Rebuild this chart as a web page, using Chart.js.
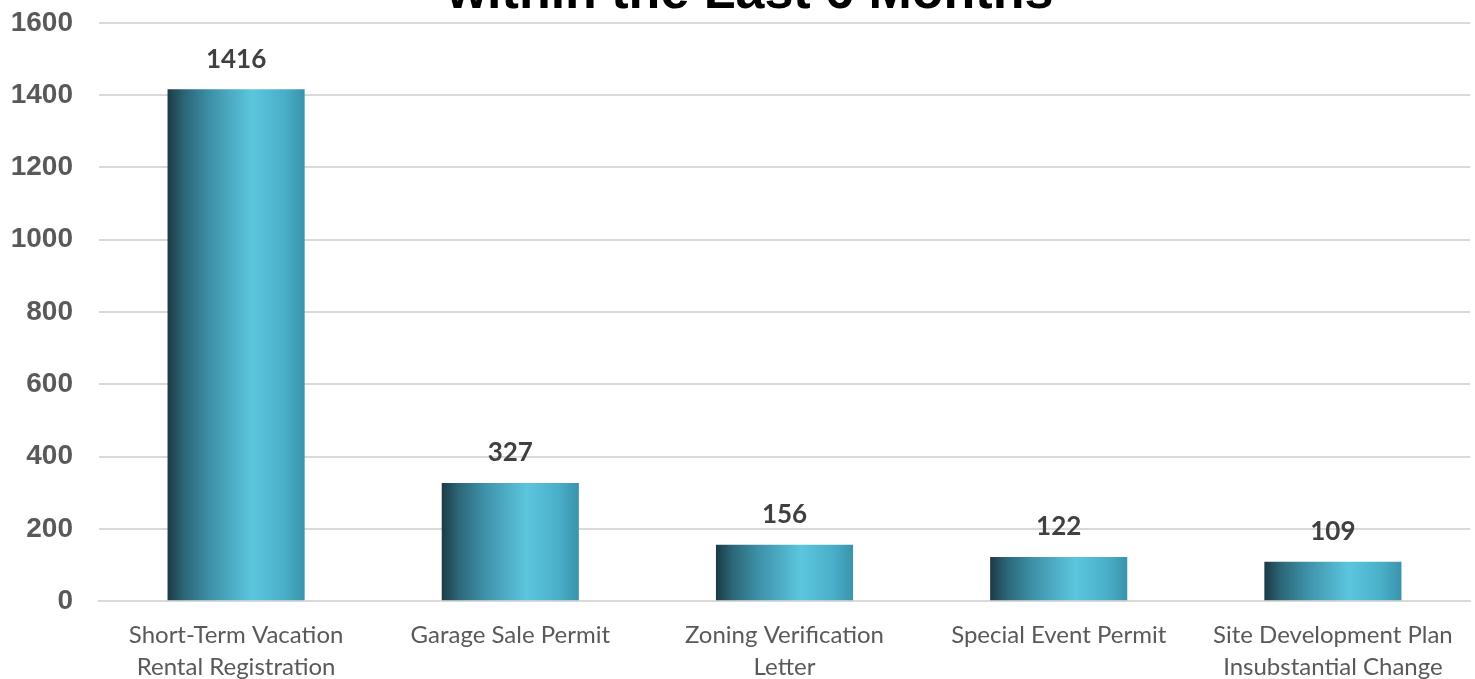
<!DOCTYPE html>
<html>
<head>
<meta charset="utf-8">
<script src="https://cdn.jsdelivr.net/npm/chart.js@4.4.1/dist/chart.umd.min.js"></script>
<style>
  html, body { margin: 0; padding: 0; background: #fff; overflow: hidden; }
  #wrap { position: relative; width: 1475px; height: 713px; top: -20px; }
</style>
</head>
<body>
<div id="wrap"><canvas id="chart"></canvas></div>
<script>
// Data
const categories = [
  ['Short-Term Vacation', 'Rental Registration'],
  'Garage Sale Permit',
  ['Zoning Verification', 'Letter'],
  'Special Event Permit',
  ['Site Development Plan', 'Insubstantial Change']
];
const permitCounts = [1416, 327, 156, 122, 109];
const titleText = 'within the Last 6 Months';

// Gradient per bar (dark left -> bright cyan -> a bit darker at right)
function barGradient(context) {
  const chart = context.chart;
  const xScale = chart.scales.x;
  if (!chart.chartArea || !xScale) return '#4fb3cc';
  const cx = xScale.getPixelForValue(context.dataIndex);
  const half = (xScale.width / categories.length) * 0.5 / 2;
  const g = chart.ctx.createLinearGradient(cx - half, 0, cx + half, 0);
  g.addColorStop(0, '#1c3a45');
  g.addColorStop(0.12, '#2b6677');
  g.addColorStop(0.3, '#3d8fa6');
  g.addColorStop(0.62, '#5cc6df');
  g.addColorStop(0.85, '#4aafc9');
  g.addColorStop(1, '#3a93ab');
  return g;
}

// Title partly cut at the top of the picture
const titlePlugin = {
  id: 'cutTitle',
  afterDraw(chart) {
    const ctx = chart.ctx;
    ctx.save();
    ctx.font = 'bold 52px "Liberation Sans", Arial, sans-serif';
    ctx.fillStyle = '#000';
    ctx.textAlign = 'center';
    ctx.textBaseline = 'alphabetic';
    ctx.fillText(titleText, 750, 28);
    ctx.restore();
  }
};

// Value labels above bars
const valueLabels = {
  id: 'valueLabels',
  afterDatasetsDraw(chart) {
    const ctx = chart.ctx;
    const meta = chart.getDatasetMeta(0);
    ctx.save();
    ctx.font = 'bold 26px Lato, "Open Sans", sans-serif';
    ctx.fillStyle = '#404040';
    ctx.textAlign = 'center';
    ctx.textBaseline = 'middle';
    meta.data.forEach((bar, i) => {
      ctx.fillText(String(permitCounts[i]), bar.x, bar.y - 30);
    });
    ctx.restore();
  }
};

new Chart(document.getElementById('chart').getContext('2d'), {
  type: 'bar',
  data: {
    labels: categories,
    datasets: [{
      data: permitCounts,
      backgroundColor: barGradient,
      borderWidth: 0,
      barPercentage: 0.5,
      categoryPercentage: 1.0
    }]
  },
  options: {
    responsive: true,
    maintainAspectRatio: false,
    animation: false,
    layout: { padding: { top: 0, right: 5, left: 0, bottom: 0 } },
    plugins: {
      legend: { display: false },
      tooltip: { enabled: false },
      title: { display: false }
    },
    scales: {
      x: {
        grid: { display: false },
        border: { color: '#d9d9d9', width: 2 },
        ticks: {
          color: '#595959',
          font: { family: 'Lato, "Open Sans", sans-serif', size: 24, lineHeight: 1.33 },
          maxRotation: 0,
          autoSkip: false,
          padding: 10
        }
      },
      y: {
        min: 0,
        max: 1600,
        afterFit: scale => { scale.width = 99; },
        grid: { color: '#d9d9d9', lineWidth: 2, drawTicks: false },
        border: { display: false },
        ticks: {
          stepSize: 200,
          color: '#595959',
          padding: 26,
          callback: v => String(v),
          font: { family: '"Liberation Sans", Arial, sans-serif', size: 28, weight: 'bold' }
        }
      }
    }
  },
  plugins: [titlePlugin, valueLabels]
});
</script>
</body>
</html>
